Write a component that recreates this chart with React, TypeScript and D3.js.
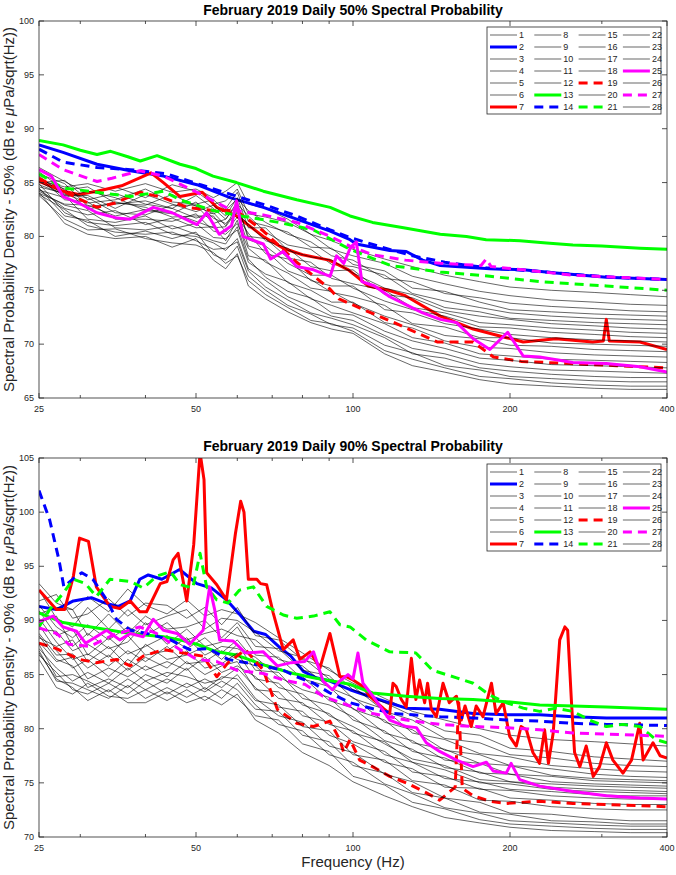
import React from 'react';
import * as d3 from 'd3';

type Pt = [number, number];

// ---------------- data ----------------
const X_MAJOR = [25, 50, 100, 200, 400];
const X_MINOR = [30, 40, 60, 70, 80, 90, 300];
const TOP_Y_TICKS = [65, 70, 75, 80, 85, 90, 95, 100];
const BOT_Y_TICKS = [70, 75, 80, 85, 90, 95, 100, 105];
const DAYS = d3.range(1, 29);
const BLACK_DAYS = [1, 3, 4, 5, 6, 8, 9, 10, 11, 12, 15, 16, 17, 18, 20, 22, 23, 24, 26, 28];

// top panel (50%) – thin black days on a shared frequency grid
const TOP_FREQ = [25, 28, 31, 35, 40, 45, 50, 54, 57, 60, 63, 68, 75, 83, 91, 100, 115, 130, 150, 175, 200, 240, 290, 340, 400];
const TOP_BLACK: number[][] = [
  [85.2, 84.6, 84.9, 84.2, 84.9, 84.1, 84.4, 83.6, 84.2, 85.0, 83.0, 82.6, 81.6, 80.2, 79.6, 78.8, 77.9, 77.2, 76.4, 75.8, 75.3, 75.0, 74.8, 74.6, 74.4],
  [86.4, 85.1, 84.0, 84.6, 83.6, 84.8, 84.2, 83.0, 83.3, 84.4, 82.1, 81.8, 81.3, 80.2, 78.8, 78.2, 77.5, 76.3, 75.6, 74.9, 74.5, 74.1, 73.9, 73.7, 73.6],
  [84.6, 84.0, 83.1, 83.4, 84.4, 83.2, 83.0, 83.4, 82.4, 83.5, 82.4, 81.3, 80.2, 79.5, 78.2, 77.8, 76.1, 75.8, 74.7, 74.3, 73.8, 73.5, 73.3, 73.1, 73.0],
  [86.0, 84.3, 84.6, 83.1, 82.9, 83.9, 82.8, 82.1, 82.6, 84.1, 81.4, 81.0, 80.4, 79.0, 78.9, 77.4, 76.8, 75.2, 74.9, 73.9, 73.2, 73.0, 72.8, 72.7, 72.6],
  [85.0, 85.2, 83.4, 84.0, 83.0, 82.6, 83.8, 82.6, 81.6, 83.0, 81.9, 80.4, 79.2, 78.8, 77.4, 77.2, 76.4, 74.7, 74.0, 73.4, 72.9, 72.6, 72.4, 72.3, 72.2],
  [85.6, 83.8, 83.8, 82.6, 83.9, 83.0, 82.3, 82.9, 81.9, 83.6, 80.8, 80.8, 78.7, 78.1, 77.8, 76.6, 75.2, 74.6, 73.4, 73.0, 72.4, 72.2, 72.0, 71.9, 71.8],
  [84.3, 83.6, 84.2, 83.6, 82.4, 82.1, 83.2, 81.7, 81.2, 82.2, 81.1, 79.6, 78.9, 77.2, 76.8, 76.9, 74.6, 74.3, 73.1, 72.6, 72.3, 71.9, 71.7, 71.5, 71.4],
  [85.8, 84.9, 82.8, 83.0, 83.3, 82.6, 81.7, 82.2, 81.0, 82.8, 80.0, 79.8, 78.0, 77.6, 76.1, 75.6, 75.0, 73.4, 72.9, 72.0, 71.8, 71.5, 71.3, 71.1, 71.0],
  [84.8, 83.9, 83.6, 82.2, 82.0, 82.9, 82.9, 81.2, 81.6, 83.2, 79.7, 79.1, 77.5, 76.4, 76.4, 75.2, 74.0, 73.2, 72.6, 71.6, 71.5, 71.1, 70.9, 70.7, 70.6],
  [85.3, 84.4, 82.5, 83.2, 82.7, 81.8, 81.9, 81.9, 80.4, 81.8, 80.3, 78.4, 77.9, 75.9, 75.4, 75.4, 73.2, 72.9, 71.9, 71.4, 70.9, 70.6, 70.4, 70.3, 70.2],
  [84.0, 83.0, 82.9, 81.9, 82.5, 82.2, 81.4, 80.8, 80.9, 82.4, 79.1, 78.7, 76.8, 76.0, 74.8, 74.4, 73.6, 71.9, 71.6, 70.6, 70.6, 70.1, 70.0, 69.9, 69.8],
  [85.5, 83.4, 83.2, 81.6, 81.6, 81.4, 82.1, 80.5, 80.2, 81.2, 78.9, 77.6, 76.6, 75.2, 74.9, 73.8, 72.6, 71.8, 70.8, 70.5, 69.9, 69.8, 69.5, 69.4, 69.3],
  [84.4, 82.6, 82.0, 82.4, 81.1, 81.7, 80.8, 80.9, 79.6, 81.5, 78.2, 77.8, 75.7, 75.0, 73.9, 73.9, 72.0, 71.5, 70.3, 69.7, 69.6, 69.2, 69.0, 68.9, 68.8],
  [85.1, 83.8, 81.6, 81.3, 81.9, 80.7, 81.2, 79.9, 79.8, 80.6, 77.6, 76.5, 75.8, 74.2, 73.6, 72.9, 71.9, 70.6, 70.1, 69.1, 68.9, 68.6, 68.5, 68.4, 68.3],
  [84.2, 82.9, 82.4, 80.8, 80.6, 81.0, 80.2, 79.6, 79.3, 80.9, 77.9, 76.2, 74.9, 74.3, 72.9, 72.7, 71.2, 70.3, 69.6, 68.7, 68.5, 68.1, 68.0, 67.9, 67.8],
  [84.9, 82.2, 81.3, 81.0, 81.3, 80.2, 80.0, 79.4, 78.7, 79.8, 77.0, 75.9, 74.4, 73.5, 72.6, 72.2, 70.8, 69.6, 69.1, 68.2, 67.9, 67.6, 67.5, 67.4, 67.3],
  [83.9, 82.5, 81.0, 80.4, 80.2, 80.4, 79.6, 78.8, 78.9, 79.5, 76.8, 75.3, 74.1, 72.9, 72.4, 71.8, 70.6, 69.1, 68.7, 67.8, 67.5, 67.2, 67.0, 66.9, 66.9],
  [84.5, 81.9, 81.5, 80.0, 80.5, 79.8, 80.4, 78.3, 77.8, 79.1, 76.3, 75.0, 73.6, 72.8, 71.8, 71.5, 69.9, 69.2, 68.0, 67.6, 67.0, 66.8, 66.6, 66.5, 66.5],
  [83.8, 81.6, 80.6, 80.7, 79.8, 79.4, 79.2, 78.5, 77.5, 78.2, 75.9, 74.6, 73.4, 72.2, 71.9, 71.2, 69.4, 68.6, 67.8, 67.0, 66.8, 66.4, 66.2, 66.1, 66.1],
  [84.1, 81.2, 80.2, 79.8, 80.0, 79.0, 79.8, 77.8, 77.0, 78.4, 75.4, 74.2, 73.0, 72.0, 71.4, 71.0, 69.1, 68.0, 67.4, 66.7, 66.3, 66.1, 65.9, 65.8, 65.8],
];

// top panel highlighted days: [frequency Hz, dB]
const TOP_DAY2: Pt[] = [[25, 88.5], [27.8, 87.8], [32.3, 86.7], [37.4, 86.1], [43.3, 85.6], [50.2, 84.8], [58.1, 83.6], [67.3, 82.7], [78, 81.6], [90.4, 80.5], [98.7, 79.7], [101.5, 79.3], [117.6, 78.7], [126.5, 78.6], [136, 77.8], [147, 77.3], [183, 77.0], [212, 76.9], [245, 76.6], [306, 76.2], [400, 76.0]];
const TOP_DAY7: Pt[] = [[25, 85.1], [27.8, 84.2], [29.8, 83.9], [32.3, 84.2], [36, 84.7], [41, 85.9], [43.3, 85.0], [46.6, 83.7], [51.4, 84.1], [54.8, 82.7], [59.8, 81.9], [67.3, 80.0], [73.5, 78.9], [80, 78.3], [90, 77.8], [98, 76.9], [107, 75.4], [117, 75.0], [126, 74.5], [147, 72.6], [170, 71.4], [197, 70.6], [212, 70.2], [245, 70.5], [288, 70.2], [302, 70.3], [306, 72.3], [310, 70.3], [355, 70.2], [400, 69.5]];
const TOP_DAY13: Pt[] = [[25, 88.9], [27.8, 88.5], [30, 88.0], [32.3, 87.6], [34.3, 87.9], [37, 87.4], [39.1, 87.0], [42.1, 87.5], [46.6, 86.7], [50, 86.3], [53.9, 85.6], [59.8, 85.0], [67.3, 84.2], [78, 83.4], [90.4, 82.7], [98.7, 81.9], [109, 81.3], [125, 80.8], [147, 80.2], [165, 80.0], [180, 79.7], [209, 79.6], [235, 79.4], [264, 79.2], [300, 79.1], [355, 78.9], [400, 78.8]];
const TOP_DAY14: Pt[] = [[25, 88.1], [27.8, 86.9], [32.3, 86.4], [37.4, 86.2], [44, 85.8], [51, 84.8], [61, 83.6], [69, 82.8], [78, 81.9], [90.4, 80.6], [98.7, 79.9], [110, 79.2], [130, 78.2], [150, 77.6], [180, 77.1], [220, 76.8], [260, 76.5], [320, 76.2], [400, 76.0]];
const TOP_DAY19: Pt[] = [[25, 85.4], [27.8, 84.2], [32.3, 82.7], [35, 83.1], [39, 84.1], [43.3, 83.6], [48, 82.7], [53.9, 82.4], [59.8, 82.4], [67.3, 80.5], [78, 77.6], [90.4, 75.1], [94, 74.2], [106, 73.1], [120, 72.0], [145, 70.2], [170, 70.2], [186, 68.8], [210, 68.4], [260, 68.2], [320, 68.0], [400, 67.8]];
const TOP_DAY21: Pt[] = [[25, 85.8], [27.8, 84.5], [32.3, 84.1], [37.4, 83.7], [43.3, 84.2], [46.6, 83.4], [53.9, 82.4], [61, 81.9], [72, 81.3], [84, 80.6], [98.7, 78.8], [118, 77.3], [147, 76.7], [183, 76.3], [228, 75.8], [306, 75.4], [400, 75.0]];
const TOP_DAY25: Pt[] = [[25, 86.2], [26.4, 85.6], [27.8, 83.7], [29.8, 83.1], [32.3, 82.2], [35.3, 81.7], [37.4, 81.6], [41.4, 82.7], [45, 82.2], [50.2, 81.1], [52.4, 82.2], [55.4, 80.2], [58.5, 81.0], [59.8, 83.3], [61.5, 80.0], [67.3, 79.3], [69.5, 77.9], [73.5, 78.6], [78, 77.2], [84, 76.9], [90.4, 76.3], [93, 78.2], [96, 77.5], [99, 79.0], [101.5, 79.5], [104, 75.8], [110, 75.4], [117.6, 74.4], [126, 73.7], [136, 72.9], [147, 72.3], [158, 72.0], [170, 70.5], [183, 69.5], [198, 71.1], [212, 68.9], [228, 68.8], [264, 68.3], [306, 68.2], [355, 67.9], [400, 67.4]];
const TOP_DAY27: Pt[] = [[25, 87.6], [27.8, 86.2], [32.3, 85.1], [34.5, 85.4], [39, 86.1], [43.3, 85.6], [50.2, 84.1], [58.1, 82.5], [67.3, 82.0], [78, 81.3], [90.4, 80.0], [98.7, 79.1], [109, 78.3], [126, 77.8], [147, 77.5], [176, 77.3], [180, 77.9], [184, 77.2], [212, 76.9], [264, 76.4], [325, 76.2], [400, 76.0]];

// bottom panel (90%)
const BOT_FREQ = [25, 27, 29, 31, 34, 37, 40, 44, 48, 52, 56, 60, 65, 72, 80, 90, 100, 115, 130, 150, 175, 200, 240, 290, 340, 400];
const BOT_BLACK: number[][] = [
  [93.4, 91.6, 91.0, 92.2, 90.8, 92.9, 91.4, 90.6, 91.9, 90.4, 91.0, 90.6, 89.8, 88.4, 87.0, 85.4, 84.2, 82.8, 81.6, 80.8, 80.0, 79.4, 79.0, 78.8, 78.6, 78.4],
  [91.8, 92.4, 90.2, 90.6, 92.0, 90.4, 91.6, 91.4, 90.2, 91.2, 89.6, 91.2, 88.6, 88.2, 86.4, 85.6, 83.6, 82.4, 81.2, 79.8, 79.4, 78.2, 77.9, 77.4, 77.2, 77.0],
  [92.8, 90.2, 89.4, 91.2, 89.2, 91.0, 89.6, 90.4, 91.0, 89.2, 90.2, 90.0, 88.9, 87.2, 86.6, 84.6, 83.9, 81.6, 80.8, 79.1, 78.7, 77.6, 77.3, 76.8, 76.6, 76.5],
  [90.6, 91.2, 91.0, 88.6, 90.6, 88.8, 90.4, 89.2, 89.4, 90.0, 88.4, 89.8, 87.6, 87.4, 85.4, 84.9, 82.8, 81.8, 79.6, 79.0, 77.7, 77.4, 76.6, 76.3, 76.1, 76.0],
  [91.4, 89.4, 88.4, 89.6, 88.2, 89.4, 88.6, 89.8, 88.2, 88.8, 89.2, 88.6, 88.2, 86.4, 85.8, 83.8, 82.9, 80.6, 79.9, 78.0, 77.6, 76.6, 76.3, 75.8, 75.6, 75.5],
  [89.8, 90.4, 87.6, 88.8, 87.4, 88.0, 89.8, 87.8, 89.2, 87.6, 88.0, 89.4, 86.8, 86.6, 84.6, 83.9, 81.8, 80.8, 78.7, 78.1, 76.8, 76.6, 75.7, 75.4, 75.3, 75.2],
  [90.9, 88.6, 89.2, 86.8, 88.4, 86.9, 87.6, 88.6, 87.4, 88.4, 87.0, 88.2, 86.2, 85.6, 84.8, 82.6, 81.9, 79.6, 78.9, 77.1, 76.8, 75.8, 75.6, 75.2, 75.1, 75.0],
  [89.2, 89.0, 87.2, 87.8, 86.6, 88.6, 86.8, 87.2, 88.4, 86.8, 87.6, 87.4, 86.6, 84.8, 83.6, 82.9, 80.8, 79.8, 77.9, 77.3, 75.9, 75.8, 75.1, 74.9, 74.8, 74.7],
  [88.4, 87.6, 88.2, 86.2, 87.6, 85.8, 87.8, 86.4, 86.8, 87.6, 86.4, 87.8, 85.4, 85.2, 82.8, 82.2, 81.1, 78.9, 78.1, 76.4, 76.0, 75.1, 74.9, 74.7, 74.6, 74.5],
  [90.2, 88.0, 86.4, 86.9, 85.8, 87.2, 86.2, 87.6, 86.0, 86.2, 87.2, 86.4, 85.8, 83.8, 83.2, 81.2, 80.2, 78.6, 77.2, 76.6, 75.3, 75.1, 74.6, 74.4, 74.3, 74.2],
  [88.8, 86.8, 86.9, 85.6, 86.8, 85.4, 86.6, 85.6, 87.2, 85.6, 86.0, 87.0, 84.6, 84.2, 82.2, 81.4, 79.6, 78.8, 76.9, 76.2, 75.0, 74.9, 74.4, 74.2, 74.1, 74.0],
  [89.6, 87.2, 85.6, 86.4, 84.8, 86.4, 85.4, 86.2, 85.4, 86.6, 85.2, 85.8, 84.8, 82.8, 82.4, 80.4, 79.8, 77.6, 76.9, 75.4, 75.1, 74.4, 74.2, 73.9, 73.8, 73.8],
  [88.0, 86.2, 86.6, 84.6, 85.6, 84.8, 85.8, 84.8, 86.2, 85.0, 85.8, 86.2, 83.6, 83.4, 81.2, 80.6, 78.8, 77.9, 76.0, 75.6, 74.4, 74.3, 73.8, 73.6, 73.5, 73.5],
  [87.4, 85.6, 84.4, 85.2, 84.2, 85.6, 84.4, 85.2, 84.8, 84.2, 84.6, 85.6, 83.8, 82.0, 81.6, 79.4, 78.6, 76.9, 76.3, 74.6, 74.5, 73.6, 73.4, 73.1, 73.0, 73.0],
  [88.6, 86.4, 85.8, 83.8, 84.6, 83.8, 85.0, 84.2, 85.6, 83.6, 84.8, 84.6, 82.6, 82.2, 80.2, 79.8, 77.6, 77.1, 75.2, 74.8, 73.4, 73.3, 72.8, 72.6, 72.5, 72.5],
  [87.8, 84.8, 85.0, 84.4, 83.4, 84.6, 83.6, 84.6, 83.8, 84.6, 83.8, 85.0, 82.8, 81.2, 80.6, 78.4, 77.8, 75.8, 75.1, 73.6, 73.2, 72.2, 72.1, 71.7, 71.5, 71.5],
  [86.8, 85.2, 83.6, 83.2, 84.2, 83.2, 84.4, 83.2, 84.2, 83.4, 84.4, 83.6, 81.8, 81.6, 79.4, 78.8, 76.6, 75.9, 74.1, 73.6, 72.3, 72.1, 71.5, 71.4, 71.2, 71.2],
  [87.2, 84.4, 84.2, 83.6, 82.8, 84.0, 82.8, 83.8, 82.9, 83.8, 82.8, 84.2, 82.2, 80.4, 79.8, 77.6, 76.9, 74.9, 74.0, 72.7, 72.2, 71.5, 71.3, 71.1, 71.0, 71.0],
  [86.4, 83.8, 83.2, 84.2, 83.0, 82.8, 83.6, 82.6, 83.6, 82.6, 83.6, 82.8, 81.2, 80.8, 78.6, 77.9, 75.6, 74.8, 73.2, 72.6, 71.6, 71.2, 71.0, 70.8, 70.7, 70.7],
  [87.0, 84.6, 83.8, 82.6, 83.6, 82.4, 82.4, 83.4, 82.4, 83.0, 82.2, 83.2, 80.8, 79.6, 77.8, 76.6, 75.1, 73.8, 72.8, 71.8, 71.3, 70.9, 70.6, 70.5, 70.4, 70.4],
];

const BOT_DAY2: Pt[] = [[25, 91.3], [27, 91.0], [29.1, 91.8], [31.5, 92.1], [33.5, 91.6], [35.5, 91.3], [37.4, 91.8], [39, 93.8], [40.5, 94.2], [43, 93.8], [46.5, 94.7], [50.2, 93.4], [53.5, 93.0], [57.2, 91.9], [61, 90.4], [64.5, 89.0], [68, 88.7], [72, 87.6], [76, 86.7], [80.3, 85.3], [85, 84.7], [90.3, 84.4], [98.7, 83.6], [112, 82.7], [126.5, 81.9], [146.6, 81.8], [169.9, 81.4], [196.7, 81.3], [227.9, 81.3], [264, 81.1], [306, 81.0], [400, 81.0]];
const BOT_DAY7: Pt[] = [[25, 92.8], [27, 91.0], [28, 91.0], [29.1, 94.1], [29.9, 97.6], [31.1, 97.3], [32.2, 93.1], [34.2, 91.3], [35.7, 91.1], [37.4, 91.8], [39, 90.8], [40.2, 90.8], [42.7, 93.4], [44, 93.6], [45.2, 95.6], [46.2, 96.2], [48, 91.8], [49.5, 97], [50.9, 105.5], [51.8, 103], [52.4, 94.4], [54.8, 93.3], [57.2, 91.9], [59.5, 98], [60.9, 101], [61.8, 100], [63, 93.8], [65.4, 93.8], [66.5, 93.4], [68.3, 93.3], [70.3, 90.7], [73.5, 87.3], [76.8, 88.2], [79.1, 86.4], [82.7, 87.1], [86.4, 85.6], [90.3, 88.8], [94.4, 84.8], [97.1, 84.8], [100, 84.5], [104.5, 83.9], [107.6, 83.0], [114.2, 81.9], [117.6, 81.4], [119.3, 84.2], [121, 83.9], [123.8, 82.7], [126.5, 82.0], [129.4, 86.5], [132, 82.7], [134.2, 84.5], [137.2, 82.4], [139, 84.2], [141.3, 81.8], [144.5, 81.1], [148.8, 84.2], [153, 82.4], [157.9, 83.0], [161.3, 80.8], [164, 82.1], [168.5, 80.2], [172.3, 82.1], [177.5, 81.1], [184.3, 84.2], [188, 81.4], [194.1, 82.4], [199.7, 79.3], [205.6, 78.4], [210, 80.2], [215, 79.9], [221.3, 77.8], [227.9, 76.8], [233, 79.9], [237, 76.8], [242, 79.6], [249.1, 88.2], [254.8, 89.4], [258, 89.1], [262.4, 82.4], [266, 77.8], [272.3, 76.5], [280, 78.4], [288.8, 75.6], [297, 76.5], [306, 78.7], [315, 77.1], [329.3, 75.9], [342, 77.1], [354.6, 80.5], [360, 77.1], [376, 78.7], [388, 77.5], [400, 77.3]];
const BOT_DAY13: Pt[] = [[25, 90.7], [27.8, 89.8], [32.3, 89.3], [37.4, 88.8], [43.3, 88.5], [46.6, 88.2], [50.2, 87.8], [54.8, 87.1], [59.8, 86.8], [67.3, 85.9], [76.8, 85.1], [84, 84.7], [98.7, 84.1], [109, 83.3], [126.5, 83.0], [146.6, 82.8], [169.9, 82.7], [196.7, 82.5], [228, 82.2], [264, 82.1], [306, 82.0], [400, 81.8]];
const BOT_DAY14: Pt[] = [[25, 102], [26.2, 99.3], [27.3, 95.6], [27.9, 93.1], [29, 93.8], [30.2, 94.4], [31.7, 93.8], [33.7, 91.9], [35.2, 90.1], [37.4, 89.1], [40.2, 88.8], [44.7, 88.2], [48.6, 87.3], [52.9, 87.4], [57.6, 86.4], [67.3, 85.8], [73.5, 85.4], [78, 84.8], [84, 84.2], [90.3, 83.3], [98.7, 82.4], [110, 81.8], [120, 81.4], [147, 81.1], [170, 81.0], [197, 80.8], [228, 80.7], [264, 80.5], [306, 80.4], [400, 80.3]];
const BOT_DAY19: Pt[] = [[25, 87.9], [27, 87.4], [29.9, 86.4], [32.2, 86.1], [35.2, 86.4], [37.4, 85.8], [39.6, 86.7], [43.3, 87.3], [47.3, 87.0], [51.6, 86.7], [54.8, 84.8], [57.6, 86.1], [62.2, 87.3], [67.3, 85.4], [71.6, 81.8], [78, 80.5], [84, 80.2], [90.3, 80.7], [94.3, 79.0], [96, 77.8], [98.7, 79.0], [103, 77.1], [109, 76.5], [117.6, 75.6], [126.5, 75.0], [138, 74.1], [146.6, 73.4], [157, 74.6], [159.5, 82.4], [162, 74.5], [170, 73.8], [183, 73.3], [197, 73.1], [228, 73.3], [264, 73.1], [306, 73.0], [400, 72.8]];
const BOT_DAY21: Pt[] = [[25, 89.4], [26.2, 91.0], [27.8, 92.5], [29.1, 93.8], [30.7, 93.4], [32.2, 92.2], [34.2, 93.8], [37.4, 93.6], [39.6, 93.0], [42.1, 94.1], [44.7, 94.5], [46.6, 93.3], [49.3, 93.0], [50.9, 96.2], [52.4, 93.1], [54.8, 91.9], [57.6, 91.6], [60.6, 92.8], [64.4, 93.1], [68.3, 91.3], [73.5, 90.5], [78, 90.2], [84, 90.4], [90.3, 90.8], [94.4, 89.6], [98.7, 89.4], [106, 88.2], [117.6, 87.1], [132, 87.0], [142, 85.4], [158, 84.7], [170, 84.2], [183, 83.1], [197, 82.4], [212, 81.9], [228, 81.6], [245, 81.9], [264, 81.6], [284, 80.8], [306, 80.2], [329, 80.4], [355, 80.2], [381, 79.0], [400, 78.7]];
const BOT_DAY25: Pt[] = [[25, 89.9], [26.6, 90.4], [27.8, 89.4], [29.5, 89.0], [30.7, 87.9], [32.2, 88.5], [33.7, 89.1], [35.7, 88.2], [37.4, 88.8], [39.6, 88.5], [41.4, 90.1], [43.3, 89.1], [46, 88.8], [48.6, 87.8], [51.6, 89.1], [53.1, 93.1], [54.3, 91.0], [55.5, 88.2], [58.9, 88.1], [62.2, 87.0], [67.3, 87.1], [71.6, 85.8], [76.1, 86.1], [80.8, 86.2], [84, 87.1], [87.6, 84.4], [91.3, 83.6], [94.3, 84.4], [97.8, 85.0], [100, 84.6], [102.2, 87.0], [104.5, 84.2], [109.2, 83.0], [117.6, 80.8], [126.5, 80.2], [132.3, 80.1], [138.2, 78.7], [146.6, 77.9], [157.9, 77.1], [169.9, 76.5], [180.2, 76.9], [185.6, 76.1], [196.7, 75.9], [201, 76.8], [208.8, 75.3], [227.9, 74.7], [264, 74.2], [306, 73.8], [355, 73.6], [400, 73.5]];
const BOT_DAY27: Pt[] = [[25, 89.3], [27, 88.8], [28.5, 87.8], [31.3, 87.6], [34.5, 88.6], [39, 89.4], [42, 88.8], [46.6, 87.3], [50.2, 86.4], [54.8, 86.2], [59.8, 85.4], [67.3, 85.1], [73.5, 84.5], [80.8, 84.1], [87.6, 83.0], [98.7, 82.1], [109, 81.4], [126.5, 80.8], [146.6, 80.4], [169.9, 80.2], [196.7, 80.1], [228, 79.9], [264, 79.6], [306, 79.5], [400, 79.3]];

// ---------------- styles ----------------
const STYLES: Record<number, { color: string; dashed: boolean }> = {
  2: { color: '#0000ff', dashed: false },
  7: { color: '#ff0000', dashed: false },
  13: { color: '#00ff00', dashed: false },
  14: { color: '#0000ff', dashed: true },
  19: { color: '#ff0000', dashed: true },
  21: { color: '#00ff00', dashed: true },
  25: { color: '#ff00ff', dashed: false },
  27: { color: '#ff00ff', dashed: true },
};

const FONT = 'Liberation Sans, Arial, Helvetica, sans-serif';
const AX = '#262626';
const X0 = 39;
const X1 = 667;

type PanelProps = {
  id: string;
  top: number;
  bottom: number;
  yMin: number;
  yMax: number;
  yTicks: number[];
  title: string;
  titleY: number;
  pct: string;
  freq: number[];
  black: number[][];
  highlights: Record<number, Pt[]>;
};

function Panel(p: PanelProps) {
  const x = d3.scaleLog().domain([25, 400]).range([X0, X1]);
  const y = d3.scaleLinear().domain([p.yMin, p.yMax]).range([p.bottom, p.top]);
  const line = d3.line<Pt>().x(d => x(d[0])).y(d => y(d[1]));

  const series = DAYS.map(day => {
    const bi = BLACK_DAYS.indexOf(day);
    const pts: Pt[] = bi >= 0
      ? p.freq.map((f, i) => [f, p.black[bi][i]] as Pt).filter(d => d[1] != null && !isNaN(d[1]))
      : p.highlights[day];
    return { day, pts, style: STYLES[day] };
  });

  const majLen = 5;
  const minLen = 3;
  const legX = 487;
  const legY = p.top + 6;
  const colW = 44.3;
  const rowH = 12;

  const ymid = (p.top + p.bottom) / 2;

  return (
    <g>
      <defs>
        <clipPath id={p.id}>
          <rect x={X0} y={p.top} width={X1 - X0} height={p.bottom - p.top} />
        </clipPath>
      </defs>
      <rect x={X0} y={p.top} width={X1 - X0} height={p.bottom - p.top} fill="#fff" />
      <g clipPath={`url(#${p.id})`}>
        {series.map(s => (
          <path
            key={s.day}
            d={line(s.pts) || ''}
            fill="none"
            stroke={s.style ? s.style.color : '#000'}
            strokeWidth={s.style ? 3 : 0.6}
            strokeDasharray={s.style && s.style.dashed ? '9,6' : undefined}
            strokeLinejoin="round"
          />
        ))}
      </g>
      <rect x={X0} y={p.top} width={X1 - X0} height={p.bottom - p.top} fill="none" stroke={AX} strokeWidth={0.8} />
      {X_MAJOR.map(t => (
        <g key={'xm' + t}>
          <line x1={x(t)} x2={x(t)} y1={p.bottom} y2={p.bottom - majLen} stroke={AX} strokeWidth={0.8} />
          <line x1={x(t)} x2={x(t)} y1={p.top} y2={p.top + majLen} stroke={AX} strokeWidth={0.8} />
          <text x={x(t)} y={p.bottom + 11} textAnchor="middle" dominantBaseline="central" fontSize={9} fill={AX} fontFamily={FONT}>{t}</text>
        </g>
      ))}
      {X_MINOR.map(t => (
        <g key={'xn' + t}>
          <line x1={x(t)} x2={x(t)} y1={p.bottom} y2={p.bottom - minLen} stroke={AX} strokeWidth={0.8} />
          <line x1={x(t)} x2={x(t)} y1={p.top} y2={p.top + minLen} stroke={AX} strokeWidth={0.8} />
        </g>
      ))}
      {p.yTicks.map(t => (
        <g key={'y' + t}>
          <line x1={X0} x2={X0 + majLen} y1={y(t)} y2={y(t)} stroke={AX} strokeWidth={0.8} />
          <line x1={X1} x2={X1 - majLen} y1={y(t)} y2={y(t)} stroke={AX} strokeWidth={0.8} />
          <text x={X0 - 5} y={y(t)} textAnchor="end" dominantBaseline="central" fontSize={9} fill={AX} fontFamily={FONT}>{t}</text>
        </g>
      ))}
      <text x={(X0 + X1) / 2} y={p.titleY} textAnchor="middle" fontSize={14} fontWeight="bold" fill="#000" fontFamily={FONT}>{p.title}</text>
      <text transform={`translate(14,${ymid}) rotate(-90)`} textAnchor="middle" fontSize={15} fill={AX} fontFamily={FONT}>
        {`Spectral Probability Density - ${p.pct} (dB re `}
        <tspan fontStyle="italic">μ</tspan>
        {'Pa/sqrt(Hz))'}
      </text>
      <rect x={legX} y={legY} width={174} height={87} fill="#fff" stroke={AX} strokeWidth={0.8} />
      {series.map((s, i) => {
        const c = Math.floor(i / 7);
        const r = i % 7;
        const lx = legX + 3 + c * colW;
        const ly = legY + 8 + r * rowH;
        return (
          <g key={'lg' + s.day}>
            <line
              x1={lx}
              x2={lx + 27}
              y1={ly}
              y2={ly}
              stroke={s.style ? s.style.color : '#000'}
              strokeWidth={s.style ? 3 : 0.6}
              strokeDasharray={s.style && s.style.dashed ? '9,6' : undefined}
            />
            <text x={lx + 29} y={ly} dominantBaseline="central" fontSize={9} fill={AX} fontFamily={FONT}>{s.day}</text>
          </g>
        );
      })}
    </g>
  );
}

export default function App() {
  return (
    <svg width={676} height={875} style={{ position: 'absolute', left: 0, top: 0, background: '#fff' }}>
      <rect x={0} y={0} width={676} height={875} fill="#fff" />
      <Panel
        id="clipTop"
        top={21}
        bottom={398}
        yMin={65}
        yMax={100}
        yTicks={TOP_Y_TICKS}
        title="February 2019 Daily 50% Spectral Probability"
        titleY={15}
        pct="50%"
        freq={TOP_FREQ}
        black={TOP_BLACK}
        highlights={{ 2: TOP_DAY2, 7: TOP_DAY7, 13: TOP_DAY13, 14: TOP_DAY14, 19: TOP_DAY19, 21: TOP_DAY21, 25: TOP_DAY25, 27: TOP_DAY27 }}
      />
      <Panel
        id="clipBot"
        top={458}
        bottom={837}
        yMin={70}
        yMax={105}
        yTicks={BOT_Y_TICKS}
        title="February 2019 Daily 90% Spectral Probability"
        titleY={451}
        pct="90%"
        freq={BOT_FREQ}
        black={BOT_BLACK}
        highlights={{ 2: BOT_DAY2, 7: BOT_DAY7, 13: BOT_DAY13, 14: BOT_DAY14, 19: BOT_DAY19, 21: BOT_DAY21, 25: BOT_DAY25, 27: BOT_DAY27 }}
      />
      <text x={(X0 + X1) / 2} y={867} textAnchor="middle" fontSize={15} fill={AX} fontFamily={FONT}>Frequency (Hz)</text>
    </svg>
  );
}
